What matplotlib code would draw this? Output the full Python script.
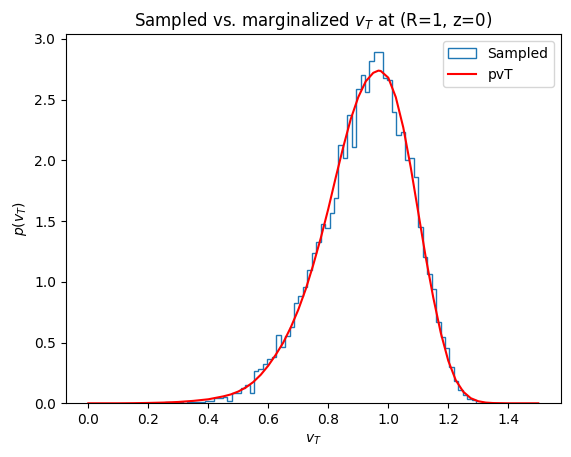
import numpy as np
import matplotlib
matplotlib.use('Agg')
import matplotlib.pyplot as plt

# histogram of sampled vT (density)
bin_lo, bin_hi, n_bins = 0.2565, 1.2925, 70
sampled_density = [
    0.007, 0.0, 0.0, 0.007, 0.0, 0.007, 0.007, 0.014, 0.007, 0.02,
    0.02, 0.04, 0.045, 0.05, 0.022, 0.085, 0.085, 0.125, 0.15, 0.082,
    0.266, 0.28, 0.323, 0.362, 0.384, 0.562, 0.466, 0.554, 0.631, 0.822,
    0.885, 0.96, 1.10, 1.24, 1.33, 1.473, 1.44, 1.564, 1.692, 2.123,
    2.02, 2.373, 2.107, 2.584, 2.702, 2.565, 2.82, 2.894, 2.889, 2.68,
    2.66, 2.40, 2.208, 2.236, 2.002, 2.016, 1.865, 1.454, 1.207, 1.062,
    0.938, 0.667, 0.548, 0.453, 0.296, 0.186, 0.109, 0.072, 0.038, 0.027,
]

# marginalized pvT curve
vt_grid = [0.0, 0.05, 0.10, 0.15, 0.20, 0.25, 0.30, 0.35, 0.40, 0.45,
           0.475, 0.50, 0.525, 0.55, 0.575, 0.60, 0.625, 0.65, 0.675, 0.70,
           0.725, 0.75, 0.775, 0.80, 0.825, 0.85, 0.875, 0.90, 0.925, 0.95,
           0.967, 0.975, 1.00, 1.025, 1.05, 1.075, 1.10, 1.125, 1.15, 1.175,
           1.20, 1.225, 1.25, 1.275, 1.30, 1.325, 1.35, 1.40, 1.45, 1.50]
pvt = [0.0, 0.0, 0.0, 0.001, 0.003, 0.006, 0.011, 0.020, 0.033, 0.057,
       0.073, 0.097, 0.130, 0.175, 0.235, 0.31, 0.40, 0.50, 0.625, 0.77,
       0.94, 1.14, 1.36, 1.60, 1.86, 2.11, 2.34, 2.52, 2.65, 2.72,
       2.738, 2.735, 2.68, 2.52, 2.27, 1.94, 1.57, 1.20, 0.87, 0.58,
       0.35, 0.19, 0.095, 0.042, 0.017, 0.006, 0.002, 0.0, 0.0, 0.0]

edges = np.linspace(bin_lo, bin_hi, n_bins + 1)
centers = 0.5 * (edges[:-1] + edges[1:])

fig = plt.figure(figsize=(5.71, 4.57), dpi=100)
ax = fig.add_axes([0.1152, 0.1175, 0.8669, 0.8079])

ax.hist(centers, bins=edges, weights=sampled_density, histtype='step',
        label='Sampled')
ax.plot(vt_grid, pvt, 'r-', label='pvT')

ax.set_title('Sampled vs. marginalized $v_T$ at (R=1, z=0)')
ax.set_xlabel('$v_T$')
ax.set_ylabel('$p(v_T)$')
ax.legend(loc='upper right')

fig.savefig('out.png', dpi=100)
